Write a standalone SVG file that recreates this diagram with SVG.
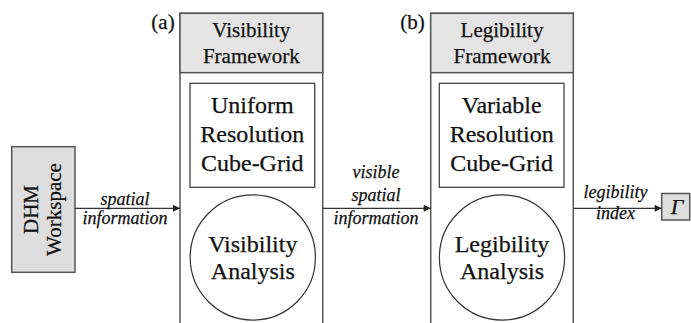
<svg xmlns="http://www.w3.org/2000/svg" width="691" height="323" viewBox="0 0 691 323">
<style>
text{font-family:"Liberation Serif","Times New Roman",serif;fill:#111;stroke:#111;stroke-width:0.25;text-anchor:middle}
.hd{font-size:21px}
.in{font-size:24px}
.lb{font-size:18px;font-style:italic}
.frame{fill:#fff;stroke:#555;stroke-width:1.5}
.head{fill:#e4e4e4;stroke:#555;stroke-width:1.5}
.grey{fill:#dedede;stroke:#555;stroke-width:1.5}
.irect{fill:#fff;stroke:#444;stroke-width:1.3}
.circ{fill:#fff;stroke:#333;stroke-width:1.2}
.conn{stroke:#333;stroke-width:1.3;fill:none;marker-end:url(#ah)}
</style>
<defs>
<marker id="ah" viewBox="0 0 10 10" refX="10" refY="5" markerWidth="8" markerHeight="7" markerUnits="userSpaceOnUse" orient="auto">
<path d="M0,0 L10,5 L0,10 Z" fill="#222"/>
</marker>
</defs>
<rect width="691" height="323" fill="#fff"/>

<g id="dhm">
<rect class="grey" x="11.7" y="146.7" width="63.3" height="125.6"/>
<text transform="translate(37.5,209.5) rotate(-90)" style="font-size:21px">DHM</text>
<text transform="translate(61,209.5) rotate(-90)" style="font-size:21px">Workspace</text>
</g>

<g id="visibility-framework">
<rect class="frame" x="180" y="13.3" width="142.7" height="315"/>
<rect class="head" x="180" y="13.3" width="142.7" height="59.4"/>
<text class="hd" x="251.3" y="36.5">Visibility</text>
<text class="hd" x="251.3" y="63">Framework</text>
<text class="hd" x="163" y="29">(a)</text>
</g>
<g id="uniform-grid">
<rect class="irect" x="190" y="83.3" width="124.7" height="104"/>
<text class="in" x="252.3" y="113">Uniform</text>
<text class="in" x="252.3" y="142">Resolution</text>
<text class="in" x="252.3" y="170.5">Cube-Grid</text>
</g>
<g id="visibility-analysis">
<circle class="circ" cx="252.8" cy="257.5" r="62.6"/>
<text class="in" x="252.8" y="251.5">Visibility</text>
<text class="in" x="252.8" y="279">Analysis</text>
</g>

<g id="legibility-framework">
<rect class="frame" x="430.7" y="13.3" width="142.6" height="315"/>
<rect class="head" x="430.7" y="13.3" width="142.6" height="59.4"/>
<text class="hd" x="502" y="36.5">Legibility</text>
<text class="hd" x="502" y="63">Framework</text>
<text class="hd" x="412.5" y="29">(b)</text>
</g>
<g id="variable-grid">
<rect class="irect" x="439.3" y="83.3" width="124.7" height="104"/>
<text class="in" x="501.7" y="113">Variable</text>
<text class="in" x="501.7" y="142">Resolution</text>
<text class="in" x="501.7" y="170.5">Cube-Grid</text>
</g>
<g id="legibility-analysis">
<circle class="circ" cx="502" cy="257.5" r="62.6"/>
<text class="in" x="502" y="251.5">Legibility</text>
<text class="in" x="502" y="279">Analysis</text>
</g>

<g id="gamma">
<rect class="grey" x="661.7" y="193.5" width="28" height="26.5"/>
<text x="677" y="214" style="font-size:22px;font-style:italic">Γ</text>
</g>

<g id="connectors">
<line class="conn" x1="75" y1="208.3" x2="180" y2="208.3"/>
<text class="lb" x="125" y="205">spatial</text>
<text class="lb" x="125" y="224">information</text>
<line class="conn" x1="322.7" y1="208.3" x2="430.7" y2="208.3"/>
<text class="lb" x="376" y="178">visible</text>
<text class="lb" x="376" y="200.5">spatial</text>
<text class="lb" x="376" y="224">information</text>
<line class="conn" x1="573.3" y1="208.3" x2="661.7" y2="208.3"/>
<text class="lb" x="615.5" y="198">legibility</text>
<text class="lb" x="615.5" y="219">index</text>
</g>
</svg>
